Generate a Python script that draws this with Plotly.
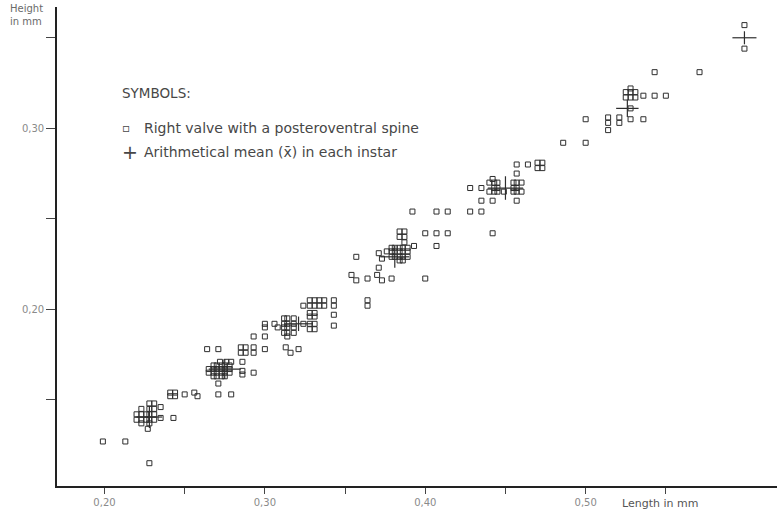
import plotly.graph_objects as go

# Right valves with a posteroventral spine: length and height in mm
valve_length = [
    # instar I
    0.199, 0.213, 0.228, 0.220, 0.220, 0.223, 0.223, 0.223, 0.223, 0.226, 0.226, 0.228,
    0.228, 0.228, 0.228, 0.228, 0.227, 0.231, 0.231, 0.231, 0.231, 0.235, 0.235, 0.243,
    0.241, 0.244, 0.241, 0.244, 0.250, 0.256, 0.258, 0.271, 0.279,
    # instar II
    0.272, 0.276, 0.279, 0.286,
    0.268, 0.270, 0.273, 0.275, 0.278,
    0.265, 0.268, 0.270, 0.273, 0.275, 0.278,
    0.265, 0.268, 0.270, 0.273, 0.275, 0.278,
    0.268, 0.270, 0.273, 0.275,
    0.286, 0.286, 0.293, 0.271,
    0.264, 0.271, 0.285, 0.288, 0.285, 0.288, 0.293, 0.293, 0.300, 0.293, 0.300,
    0.313, 0.316, 0.321, 0.314,
    # instar III
    0.300, 0.300, 0.306, 0.308,
    0.312, 0.312, 0.312, 0.312, 0.314, 0.314, 0.314, 0.314, 0.318, 0.318, 0.318, 0.318,
    0.324, 0.328, 0.328, 0.331, 0.331,
    0.328, 0.331, 0.328, 0.331, 0.343, 0.343,
    0.324, 0.328, 0.331, 0.328, 0.331, 0.334, 0.337, 0.334, 0.337, 0.343, 0.343,
    # instar IV
    0.364, 0.364,
    0.354, 0.357, 0.364, 0.370, 0.373, 0.379, 0.400,
    0.371, 0.357, 0.371, 0.373,
    0.376, 0.379, 0.379, 0.379,
    0.381, 0.384, 0.386, 0.389, 0.381, 0.384, 0.386, 0.389, 0.381, 0.384, 0.386, 0.389,
    0.384, 0.386,
    0.384, 0.387, 0.384, 0.387, 0.387,
    0.393, 0.400, 0.407, 0.414, 0.407, 0.442,
    # instar V
    0.392, 0.407, 0.414, 0.428, 0.435,
    0.428, 0.435, 0.435, 0.442, 0.457, 0.442,
    0.440, 0.443, 0.445, 0.455, 0.457, 0.460,
    0.443, 0.445, 0.455, 0.457,
    0.440, 0.443, 0.445, 0.449, 0.455, 0.457, 0.460,
    0.457, 0.457, 0.464, 0.470, 0.473, 0.470, 0.473,
    # instar VI
    0.486, 0.500, 0.500, 0.514, 0.514, 0.521, 0.521, 0.528, 0.536, 0.514, 0.528,
    0.528, 0.525, 0.528, 0.531, 0.525, 0.528, 0.531,
    0.536, 0.543, 0.550, 0.543, 0.571,
    # instar VII
    0.599, 0.599,
]

valve_height = [
    # instar I
    0.127, 0.127, 0.115, 0.142, 0.139, 0.145, 0.142, 0.139, 0.137, 0.142, 0.139, 0.148,
    0.145, 0.142, 0.139, 0.137, 0.134, 0.148, 0.145, 0.142, 0.139, 0.146, 0.140, 0.140,
    0.154, 0.154, 0.152, 0.152, 0.153, 0.154, 0.152, 0.153, 0.153,
    # instar II
    0.171, 0.171, 0.171, 0.171,
    0.169, 0.169, 0.169, 0.169, 0.169,
    0.167, 0.167, 0.167, 0.167, 0.167, 0.167,
    0.165, 0.165, 0.165, 0.165, 0.165, 0.165,
    0.163, 0.163, 0.163, 0.163,
    0.166, 0.164, 0.165, 0.159,
    0.178, 0.178, 0.179, 0.179, 0.176, 0.176, 0.179, 0.176, 0.178, 0.185, 0.185,
    0.179, 0.176, 0.178, 0.185,
    # instar III
    0.192, 0.190, 0.192, 0.190,
    0.195, 0.192, 0.190, 0.187, 0.195, 0.192, 0.190, 0.187, 0.195, 0.192, 0.190, 0.187,
    0.192, 0.192, 0.189, 0.192, 0.189,
    0.198, 0.198, 0.196, 0.196, 0.197, 0.191,
    0.202, 0.205, 0.205, 0.202, 0.202, 0.205, 0.205, 0.202, 0.202, 0.205, 0.202,
    # instar IV
    0.205, 0.202,
    0.219, 0.216, 0.217, 0.219, 0.216, 0.217, 0.217,
    0.223, 0.229, 0.231, 0.228,
    0.232, 0.234, 0.232, 0.229,
    0.234, 0.234, 0.234, 0.234, 0.232, 0.232, 0.232, 0.232, 0.229, 0.229, 0.229, 0.229,
    0.227, 0.227,
    0.243, 0.243, 0.240, 0.240, 0.237,
    0.235, 0.242, 0.242, 0.242, 0.235, 0.242,
    # instar V
    0.254, 0.254, 0.254, 0.254, 0.254,
    0.267, 0.267, 0.260, 0.260, 0.260, 0.272,
    0.270, 0.270, 0.270, 0.270, 0.270, 0.270,
    0.267, 0.267, 0.267, 0.267,
    0.265, 0.265, 0.265, 0.265, 0.265, 0.265, 0.265,
    0.275, 0.280, 0.280, 0.281, 0.281, 0.278, 0.278,
    # instar VI
    0.292, 0.292, 0.305, 0.306, 0.303, 0.306, 0.303, 0.305, 0.305, 0.299, 0.311,
    0.322, 0.320, 0.320, 0.320, 0.317, 0.317, 0.317,
    0.318, 0.318, 0.318, 0.331, 0.331,
    # instar VII
    0.357, 0.344,
]

# Arithmetical mean per instar, with the half-spread drawn as the cross arms
mean_length = [0.228, 0.275, 0.321, 0.381, 0.450, 0.526, 0.599]
mean_height = [0.1405, 0.167, 0.192, 0.229, 0.267, 0.311, 0.350]
spread_length = [0.008, 0.010, 0.009, 0.009, 0.011, 0.007, 0.0075]
spread_height = [0.006, 0.0055, 0.004, 0.006, 0.0065, 0.0047, 0.0036]

x_ticks = [0.20, 0.25, 0.30, 0.35, 0.40, 0.45, 0.50, 0.55]
x_labels = ["0,20", "", "0,30", "", "0,40", "", "0,50", ""]
y_ticks = [0.15, 0.20, 0.25, 0.30, 0.35]
y_labels = ["", "0,20", "", "0,30", ""]

INK = "#2e2e2e"
FONT = "DejaVu Sans"

fig = go.Figure()

fig.add_trace(go.Scatter(
    x=valve_length, y=valve_height, mode="markers",
    marker=dict(symbol="square-open", size=5, color=INK, line=dict(width=1, color=INK)),
    showlegend=False, hoverinfo="x+y",
))

fig.add_trace(go.Scatter(
    x=mean_length, y=mean_height, mode="markers",
    marker=dict(size=1, color="rgba(0,0,0,0)"),
    error_x=dict(type="data", array=spread_length, width=0, thickness=1.2, color=INK),
    error_y=dict(type="data", array=spread_height, width=0, thickness=1.2, color=INK),
    showlegend=False, hoverinfo="x+y",
))

axis_common = dict(
    showgrid=False, zeroline=False, showline=True, linecolor="#222", linewidth=1.6,
    ticks="outside", tickcolor="#444", tickwidth=1,
    tickfont=dict(family=FONT, size=10, color="#8a8a8a"),
    tickmode="array",
)

fig.update_xaxes(axis_common, range=[0.1704, 0.6193], tickvals=x_ticks, ticktext=x_labels,
                 ticklen=6)
fig.update_yaxes(axis_common, range=[0.1024, 0.367], tickvals=y_ticks, ticktext=y_labels,
                 ticklen=9)

text_col = "#474747"
annotations = [
    dict(text="Height<br>in mm", x=-0.068, y=1.012, xanchor="left", yanchor="top",
         align="left", font=dict(family=FONT, size=10, color="#6a6a6a")),
    dict(text="Length in mm", x=0.782, y=-0.036, xanchor="left", yanchor="middle",
         font=dict(family=FONT, size=11, color="#555")),
    dict(text="SYMBOLS:", x=0.087, y=0.820, xanchor="left", yanchor="middle",
         font=dict(family=FONT, size=13.5, color=text_col)),
    dict(text="▫", x=0.096, y=0.747, xanchor="center", yanchor="middle",
         font=dict(family=FONT, size=12, color=text_col)),
    dict(text="Right valve with a posteroventral spine", x=0.118, y=0.748,
         xanchor="left", yanchor="middle", font=dict(family=FONT, size=14, color=text_col)),
    dict(text="+", x=0.101, y=0.697, xanchor="center", yanchor="middle",
         font=dict(family=FONT, size=19, color=text_col)),
    dict(text="Arithmetical mean (x\u0304) in each instar", x=0.118, y=0.697,
         xanchor="left", yanchor="middle", font=dict(family=FONT, size=14, color=text_col)),
]
for a in annotations:
    a.update(xref="paper", yref="paper", showarrow=False)

fig.update_layout(
    width=777, height=521,
    margin=dict(l=57, r=0, t=7, b=35),
    paper_bgcolor="white", plot_bgcolor="white",
    annotations=annotations,
    showlegend=False,
)

fig.write_html("out.html")
